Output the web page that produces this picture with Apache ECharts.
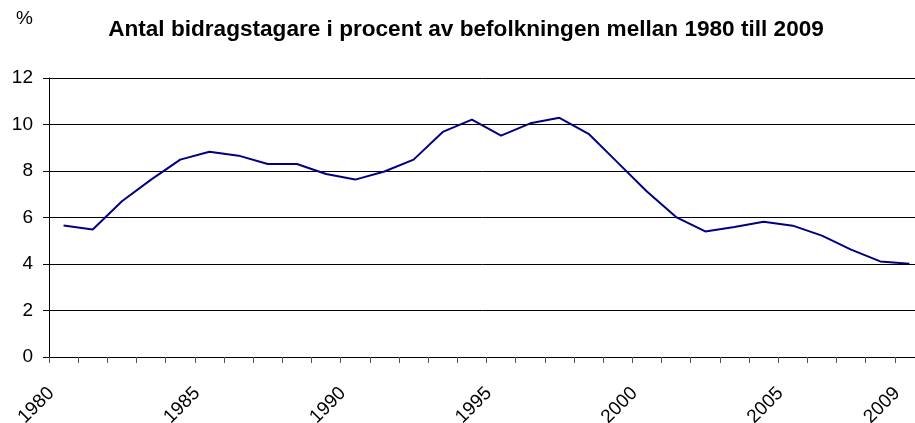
<!DOCTYPE html>
<html>
<head>
<meta charset="utf-8">
<script src="https://cdn.jsdelivr.net/npm/echarts@6/dist/echarts.min.js"></script>
<style>
  html, body { margin: 0; padding: 0; background: #fff; }
  #main { width: 915px; height: 423px; }
</style>
</head>
<body>
<div id="main"></div>
<script>
var years = [];
for (var y = 1980; y <= 2009; y++) years.push(String(y));

// andel bidragstagare, procent
var andel = [5.66, 5.48, 6.7, 7.63, 8.49, 8.83, 8.66, 8.3, 8.3, 7.87,
             7.63, 7.98, 8.49, 9.68, 10.21, 9.52, 10.05, 10.29, 9.6, 8.36,
             7.12, 6.02, 5.4, 5.59, 5.82, 5.65, 5.22, 4.62, 4.11, 4.01];

var visaAr = ['1980', '1985', '1990', '1995', '2000', '2005', '2009'];

var myChart = echarts.init(document.getElementById('main'));

var option = {
  animation: false,
  textStyle: { fontFamily: 'Liberation Sans, Arial, sans-serif' },
  title: [{
    text: 'Antal bidragstagare i procent av befolkningen mellan 1980 till 2009',
    left: 461,
    top: 13,
    textAlign: 'center',
    textStyle: { fontSize: 22.6, fontWeight: 'bold', color: '#000' }
  }, {
    text: '%',
    left: 11,
    top: 4,
    textStyle: { fontSize: 19, fontWeight: 'normal', color: '#000' }
  }],
  grid: {
    left: 49,
    top: 78,
    bottom: 66,
    right: -9,
    containLabel: false,
    outerBoundsMode: 'none'
  },
  xAxis: {
    type: 'category',
    data: years,
    boundaryGap: true,
    axisLine: { lineStyle: { color: '#000', width: 1 } },
    axisTick: { show: true, interval: 0, length: 6, lineStyle: { color: '#555' } },
    axisLabel: {
      interval: function (i, v) { return visaAr.indexOf(v) >= 0; },
      rotate: 45,
      margin: 21,
      padding: [0, 17.5, 21, 0],
      fontSize: 19,
      color: '#000'
    },
    splitLine: { show: false }
  },
  yAxis: {
    type: 'value',
    min: 0,
    max: 12,
    interval: 2,
    axisLine: { show: true, lineStyle: { color: '#000', width: 1 } },
    axisTick: { show: true, length: 6, lineStyle: { color: '#000' } },
    axisLabel: { fontSize: 19, color: '#000', margin: 16 },
    splitLine: { lineStyle: { color: '#000', width: 1 } }
  },
  series: [{
    name: 'Andel',
    type: 'line',
    data: andel,
    showSymbol: false,
    symbol: 'none',
    lineStyle: { color: '#000080', width: 2 }
  }]
};

myChart.setOption(option);
</script>
</body>
</html>
